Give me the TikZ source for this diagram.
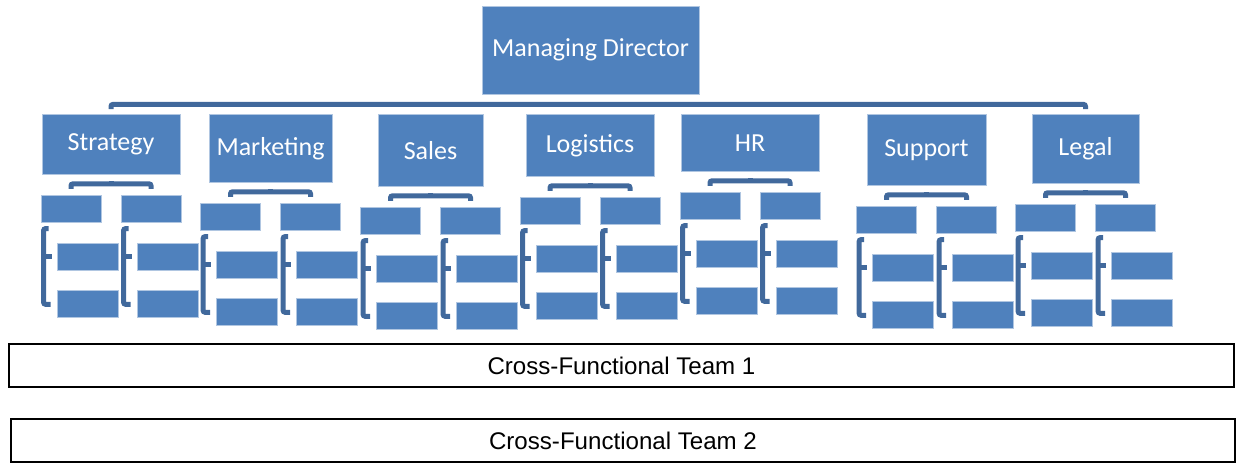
\documentclass[tikz,border=0pt]{standalone}
\usepackage{fontspec}
\setmainfont{Carlito}
\newfontfamily\teamfont{Liberation Sans}
\usetikzlibrary{calc}

\definecolor{boxblue}{HTML}{4F81BD}
\definecolor{linkblue}{HTML}{41699C}

\begin{document}
\begin{tikzpicture}[
x=1pt,y=-1pt,
deptbox/.style={rectangle,draw=white!55!boxblue,line width=0.8pt,fill=boxblue,text=white,inner sep=0pt,font=\fontsize{26}{30}\selectfont},
subbox/.style={rectangle,draw=white!55!boxblue,line width=0.8pt,fill=boxblue,inner sep=0pt,minimum width=60pt,minimum height=27pt},
leafbox/.style={subbox,minimum width=61pt},
teambox/.style={rectangle,draw=black,line width=1.6pt,inner sep=0pt,font=\teamfont\fontsize{24.1}{28}\selectfont},
conn/.style={draw=linkblue,line width=5pt,rounded corners=2pt}
]
\useasboundingbox (0,0) rectangle (1241,463);

% Top of the chart
\node [deptbox,minimum width=217pt,minimum height=88pt] (md) at (590.5,50) {Managing Director};

% Departments, their two units and the units' two teams
\foreach \i/\c/\w/\h/\dept in {1/111/138/60/Strategy,2/270.5/123/68/Marketing,3/430.5/105/72/Sales,4/590/128/62/Logistics,5/750/138/57/HR,6/926.5/119/71/Support,7/1085.5/107/69/Legal}{
  \node [deptbox,minimum width=\w pt,minimum height=\h pt,anchor=north] (d\i) at (\c,114) {\dept};
  \foreach \s/\dx in {l/-40,r/40}{
    \node [subbox,anchor=north] (\s\i) at ([xshift=\dx pt,yshift=-20pt]d\i.south) {};
    \node [leafbox,anchor=north west] (\s\i top) at ([xshift=16pt,yshift=-20pt]\s\i.south west) {};
    \node [leafbox,anchor=north west] (\s\i bot) at ([yshift=-20pt]\s\i top.south west) {};
    \draw [conn] ($(\s\i top.north west)+(-8,-14)$) -| ($(\s\i bot.west)+(-13,0)$) -- ($(\s\i bot.west)+(-6,0)$);
    \draw [conn] ($(\s\i top.west)+(-13,0)$) -- ($(\s\i top.west)+(-5,0)$);
  }
  \draw [conn] ($(l\i.north)+(0,-6)$) |- ($(d\i.south)+(0,9)$) -| ($(r\i.north)+(0,-6)$);
  \draw [conn] ($(d\i.south)+(0,9)$) -- ($(d\i.south)+(0,6)$);
}

% Bus from the director to the departments
\draw [conn] ($(d1.north)+(0,-5)$) |- ($(md.south)+(0,10)$) -| ($(d7.north)+(0,-5)$);
\foreach \i in {2,...,6}{
  \draw [conn] ($(d\i.north)+(0,-10)$) -- ($(d\i.north)+(0,-7)$);
}

% Teams across the departments
\node [teambox,minimum width=1225pt,minimum height=43pt] (team1) at (621.5,365.5) {\raisebox{-2.5pt}{Cross-Functional Team 1}};
\node [teambox,minimum width=1224pt,minimum height=43pt] (team2) at (623,440.5) {\raisebox{-2.5pt}{Cross-Functional Team 2}};
\end{tikzpicture}
\end{document}
